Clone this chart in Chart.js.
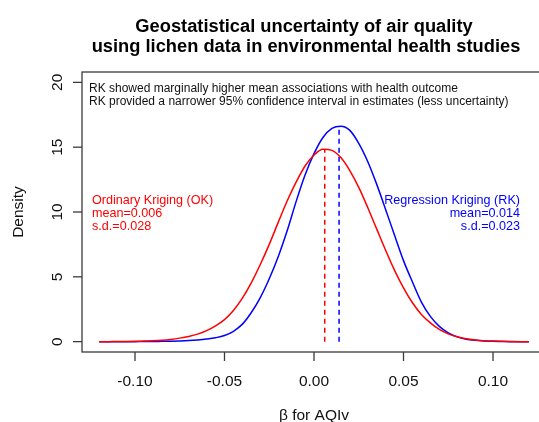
<!DOCTYPE html>
<html>
<head>
<meta charset="utf-8">
<script src="https://cdn.jsdelivr.net/npm/chart.js@4"></script>
<style>
  html, body { margin: 0; padding: 0; background: #fff; overflow: hidden; }
  canvas { display: block; }
</style>
</head>
<body>
<canvas id="chart" width="548" height="422"></canvas>
<script>
const betaValues = [
  -0.120, -0.115, -0.110, -0.105, -0.100, -0.095, -0.090, -0.085, -0.080, -0.075,
  -0.070, -0.065, -0.060, -0.055, -0.050, -0.045, -0.040, -0.035, -0.030, -0.025,
  -0.020, -0.015, -0.010, -0.005, 0.000, 0.005, 0.010, 0.015, 0.020, 0.025,
  0.030, 0.035, 0.040, 0.045, 0.050, 0.055, 0.060, 0.065, 0.070, 0.075,
  0.080, 0.085, 0.090, 0.095, 0.100, 0.105, 0.110, 0.115, 0.120
];

// Ordinary Kriging density
const okDensity = [
  0.00, 0.00, 0.01, 0.01, 0.02, 0.04, 0.06, 0.10, 0.17, 0.27,
  0.40, 0.58, 0.85, 1.22, 1.70, 2.40, 3.35, 4.55, 5.95, 7.50,
  9.20, 10.85, 12.30, 13.55, 14.40, 14.84, 14.75, 14.20, 13.20, 11.90,
  10.35, 8.70, 7.05, 5.50, 4.15, 3.00, 2.10, 1.45, 0.95, 0.60,
  0.37, 0.22, 0.13, 0.07, 0.04, 0.02, 0.01, 0.00, 0.00
];

// Regression Kriging density
const rkDensity = [
  0.00, 0.00, 0.00, 0.00, 0.00, 0.01, 0.01, 0.02, 0.03, 0.05,
  0.08, 0.13, 0.20, 0.30, 0.47, 0.80, 1.35, 2.25, 3.40, 4.85,
  6.55, 8.55, 10.80, 12.85, 14.50, 15.75, 16.45, 16.62, 16.30, 15.30,
  13.90, 12.15, 10.20, 8.20, 6.25, 4.60, 3.05, 1.95, 1.18, 0.68,
  0.37, 0.19, 0.10, 0.05, 0.02, 0.01, 0.00, 0.00, 0.00
];

const okMean = 0.006;
const okPeak = 14.86;
const rkMean = 0.014;
const rkPeak = 16.66;

const xTicks = [-0.10, -0.05, 0.00, 0.05, 0.10];
const xTickLabels = ['-0.10', '-0.05', '0.00', '0.05', '0.10'];
const yTicks = [0, 5, 10, 15, 20];
const yTickLabels = ['0', '5', '10', '15', '20'];

const titleLines = ['Geostatistical uncertainty of air quality', 'using lichen data in environmental health studies'];
const noteLines = ['RK showed marginally higher mean associations with health outcome',
  'RK provided a narrower 95% confidence interval in estimates (less uncertainty)'];
const okLabel = ['Ordinary Kriging (OK)', 'mean=0.006', 's.d.=0.028'];
const rkLabel = ['Regression Kriging (RK)', 'mean=0.014', 's.d.=0.023'];

const RED = '#ff0000';
const BLUE = '#0000ff';
const FONT = '"Liberation Sans", Arial, sans-serif';

const toPoints = (xs, ys) => xs.map((x, i) => ({ x: x, y: ys[i] }));

// box, axes and all text, drawn R style
const rFrame = {
  id: 'rFrame',
  afterDraw(chart) {
    const { ctx, chartArea: a, scales: { x, y } } = chart;
    ctx.save();
    ctx.strokeStyle = '#3a3a3a';
    ctx.lineWidth = 1.3;
    ctx.strokeRect(a.left, a.top, a.right - a.left, a.bottom - a.top);

    ctx.fillStyle = '#111';
    ctx.font = '15.5px ' + FONT;
    ctx.textAlign = 'center';
    ctx.textBaseline = 'alphabetic';
    xTicks.forEach((v, i) => {
      const px = x.getPixelForValue(v);
      ctx.beginPath();
      ctx.moveTo(px, a.bottom);
      ctx.lineTo(px, a.bottom + 9);
      ctx.stroke();
      ctx.fillText(xTickLabels[i], px, 386);
    });
    yTicks.forEach((v, i) => {
      const py = y.getPixelForValue(v);
      ctx.beginPath();
      ctx.moveTo(a.left - 9, py);
      ctx.lineTo(a.left, py);
      ctx.stroke();
      ctx.save();
      ctx.translate(62, py);
      ctx.rotate(-Math.PI / 2);
      ctx.fillText(yTickLabels[i], 0, 0);
      ctx.restore();
    });

    // axis titles
    ctx.fillText('\u03b2 for AQIv', (a.left + a.right) / 2, 420);
    ctx.save();
    ctx.translate(23, (a.top + a.bottom) / 2);
    ctx.rotate(-Math.PI / 2);
    ctx.fillText('Density', 0, 0);
    ctx.restore();

    // main title
    ctx.fillStyle = '#000';
    ctx.font = 'bold 18.3px ' + FONT;
    ctx.fillText(titleLines[0], 304, 32);
    ctx.fillText(titleLines[1], 306, 52);

    // note in the top left
    ctx.font = '12px ' + FONT;
    ctx.textAlign = 'left';
    ctx.fillStyle = '#111';
    ctx.fillText(noteLines[0], 89, 92);
    ctx.fillText(noteLines[1], 89, 105);

    // curve labels
    ctx.font = '12.6px ' + FONT;
    ctx.fillStyle = RED;
    okLabel.forEach((t, i) => ctx.fillText(t, 92, 204 + i * 13.2));
    ctx.textAlign = 'right';
    ctx.fillStyle = BLUE;
    rkLabel.forEach((t, i) => ctx.fillText(t, 520, 204 + i * 13.2));
    ctx.restore();
  }
};

const ctx = document.getElementById('chart').getContext('2d');
new Chart(ctx, {
  type: 'line',
  data: {
    datasets: [
      {
        label: 'OK',
        data: toPoints(betaValues, okDensity),
        borderColor: RED,
        borderWidth: 1.5,
        pointRadius: 0,
        cubicInterpolationMode: 'monotone',
        fill: false
      },
      {
        label: 'RK',
        data: toPoints(betaValues, rkDensity),
        borderColor: BLUE,
        borderWidth: 1.5,
        pointRadius: 0,
        cubicInterpolationMode: 'monotone',
        fill: false
      },
      {
        label: 'OK mean',
        data: [{ x: okMean, y: 0 }, { x: okMean, y: okPeak }],
        borderColor: RED,
        borderWidth: 1.5,
        borderDash: [5, 4],
        pointRadius: 0
      },
      {
        label: 'RK mean',
        data: [{ x: rkMean, y: 0 }, { x: rkMean, y: rkPeak }],
        borderColor: BLUE,
        borderWidth: 1.5,
        borderDash: [5, 4],
        pointRadius: 0
      }
    ]
  },
  options: {
    responsive: false,
    animation: false,
    devicePixelRatio: 1,
    layout: { padding: { left: 82, right: 2, top: 72, bottom: 70 } },
    scales: {
      x: { type: 'linear', min: -0.1296, max: 0.1296, display: false },
      y: { type: 'linear', min: -0.8, max: 20.8, display: false }
    },
    plugins: {
      legend: { display: false },
      tooltip: { enabled: false },
      title: { display: false }
    }
  },
  plugins: [rFrame]
});
</script>
</body>
</html>
